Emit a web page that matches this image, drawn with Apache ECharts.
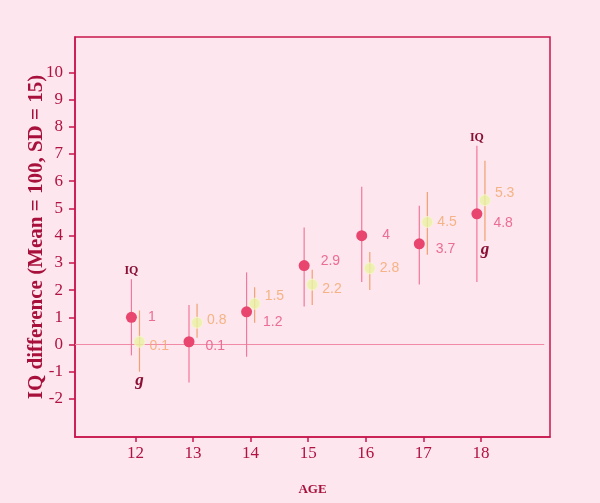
<!DOCTYPE html>
<html>
<head>
<meta charset="utf-8">
<script src="https://cdn.jsdelivr.net/npm/echarts@6/dist/echarts.min.js"></script>
<style>
html,body{margin:0;padding:0;background:#fde6ee;}
#c{width:600px;height:503px;}
</style>
</head>
<body>
<div id="c"></div>
<script>
// ---- data ----
var ages = [12, 13, 14, 15, 16, 17, 18];
var iqValues = [1, 0.1, 1.2, 2.9, 4, 3.7, 4.8];
var iqLow  = [-0.4, -1.4, -0.45, 1.4, 2.3, 2.2, 2.3];
var iqHigh = [2.4, 1.45, 2.65, 4.3, 5.8, 5.1, 7.3];
var gValues = [0.1, 0.8, 1.5, 2.2, 2.8, 4.5, 5.3];
var gLow  = [-1.0, 0.25, 0.8, 1.45, 2.0, 3.3, 3.8];
var gHigh = [1.25, 1.5, 2.1, 2.75, 3.4, 5.6, 6.75];
var yTickLabels = [-2, -1, 0, 1, 2, 3, 4, 5, 6, 7, 8, 9, 10];
var annotatedAges = [12, 18];
var seriesNames = ['IQ', 'g'];

// ---- styles ----
var iqShift = -0.07, gShift = 0.07;
var iqLabelOffsets = [[0,0],[0,4],[0,10],[0,-4],[4,0],[0,5],[0,9]];
var gLabelOffsets  = [[0,4],[0,-3],[0,-8],[0,5],[0,0],[0,0],[0,-7]];
var axisColor = '#c8164e';

var chart = echarts.init(document.getElementById('c'), null, {renderer: 'canvas'});

function pts(vals, shift) {
  return ages.map(function (a, i) { return [a + shift, vals[i]]; });
}
function bars(lo, hi, shift) {
  return ages.map(function (a, i) { return [a + shift, lo[i], hi[i], a]; });
}

function barRender(color, name, above) {
  return function (params, api) {
    var x = api.value(0);
    var p1 = api.coord([x, api.value(1)]);
    var p2 = api.coord([x, api.value(2)]);
    var children = [{
      type: 'line',
      shape: {x1: p1[0], y1: p1[1], x2: p2[0], y2: p2[1]},
      style: {stroke: color, lineWidth: 1.2}
    }];
    if (annotatedAges.indexOf(api.value(3)) >= 0) {
      children.push({
        type: 'text',
        x: above ? p2[0] : p1[0],
        y: above ? p2[1] - 8 : p1[1] + 9,
        style: {
          text: name,
          fill: '#8a0f35',
          font: above ? 'bold 12px "Liberation Serif", serif' : 'italic bold 17px "Liberation Serif", serif',
          align: 'center',
          verticalAlign: 'middle'
        }
      });
    }
    return {type: 'group', children: children};
  };
}

var option = {
  backgroundColor: '#fde6ee',
  animation: false,
  grid: {left: 75, top: 37, right: 50, bottom: 66, show: true, borderColor: axisColor, borderWidth: 1.5, backgroundColor: 'transparent'},
  xAxis: {
    type: 'value', min: 10.95, max: 19.2,
    name: 'AGE', nameLocation: 'middle', nameGap: 46, nameMoveOverlap: false,
    nameTextStyle: {color: '#a8103c', fontFamily: 'Liberation Serif', fontWeight: 'bold', fontSize: 13},
    axisLine: {show: true, onZero: false, lineStyle: {color: axisColor, width: 1.5}},
    axisTick: {show: true, length: 5, lineStyle: {color: axisColor, width: 1.5}, customValues: ages},
    axisLabel: {color: '#b01242', fontFamily: 'Liberation Serif', fontSize: 17, margin: 8, customValues: ages},
    splitLine: {show: false}
  },
  yAxis: {
    type: 'value', min: -3.4, max: 11.3,
    name: 'IQ difference (Mean = 100, SD = 15)', nameLocation: 'middle', nameGap: 28, nameMoveOverlap: false,
    nameTextStyle: {color: '#a8103c', fontFamily: 'Liberation Serif', fontWeight: 'bold', fontSize: 21},
    axisLine: {show: true, onZero: false, lineStyle: {color: axisColor, width: 1.5}},
    axisTick: {show: true, length: 6, lineStyle: {color: axisColor, width: 1.5}, customValues: yTickLabels},
    axisLabel: {color: '#b01242', fontFamily: 'Liberation Serif', fontSize: 17, margin: 12, customValues: yTickLabels},
    splitLine: {show: false}
  },
  series: [
    {
      type: 'custom', name: 'IQ bars', renderItem: barRender('#f0789a', seriesNames[0], true),
      data: bars(iqLow, iqHigh, iqShift), z: 2, silent: true
    },
    {
      type: 'custom', name: 'g bars', renderItem: barRender('#f2a070', seriesNames[1], false),
      data: bars(gLow, gHigh, gShift), z: 2, silent: true
    },
    {
      type: 'line', name: 'zero', data: [[10.95, 0], [19.1, 0]], symbol: 'none',
      lineStyle: {color: '#f08aa6', width: 1.2}, z: 1, silent: true
    },
    {
      type: 'scatter', name: seriesNames[0], data: pts(iqValues, iqShift),
      symbolSize: 11, itemStyle: {color: '#e8456f', opacity: 1}, z: 4,
      label: {
        show: true, position: 'right', distance: 11, color: '#ec6d94', fontSize: 14,
        fontFamily: 'Liberation Sans',
        formatter: function (p) { return String(iqValues[p.dataIndex]); }
      },
      labelLayout: function (p) { var o = iqLabelOffsets[p.dataIndex]; return {dx: o[0], dy: o[1]}; }
    },
    {
      type: 'scatter', name: seriesNames[1], data: pts(gValues, gShift),
      symbolSize: 11, itemStyle: {color: '#e9f3a2', borderColor: '#f6f8d0', borderWidth: 1}, z: 5,
      label: {
        show: true, position: 'right', distance: 4, color: '#f2a66a', fontSize: 14,
        fontFamily: 'Liberation Sans',
        formatter: function (p) { return String(gValues[p.dataIndex]); }
      },
      labelLayout: function (p) { var o = gLabelOffsets[p.dataIndex]; return {dx: o[0], dy: o[1]}; }
    }
  ]
};
chart.setOption(option);
</script>
</body>
</html>
